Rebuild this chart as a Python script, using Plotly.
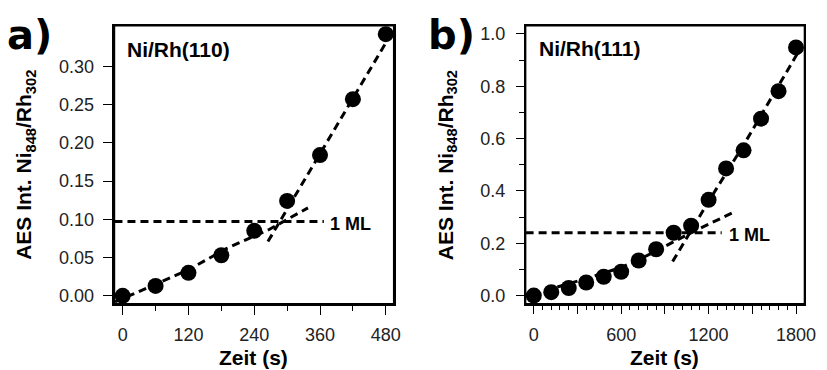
import plotly.graph_objects as go

# ---- data panel a: Ni/Rh(110)
t_a = [0, 60, 120, 180, 240, 300, 360, 420, 480]
y_a = [0.0, 0.013, 0.030, 0.053, 0.085, 0.124, 0.184, 0.257, 0.342]
fit1_a_t = [-14, 60, 120, 190, 268, 338]
fit1_a_y = [-0.008, 0.015, 0.034, 0.062, 0.087, 0.115]
fit2_a_t = [265, 487]
fit2_a_y = [0.071, 0.339]
ml_a_t = [-15, 367]
ml_a_y = [0.097, 0.097]

# ---- data panel b: Ni/Rh(111)
t_b = [0, 120, 240, 360, 480, 600, 720, 840, 960, 1080, 1200, 1320, 1440, 1560, 1680, 1800]
y_b = [0.0, 0.013, 0.029, 0.050, 0.072, 0.091, 0.134, 0.177, 0.240, 0.267, 0.366,
       0.486, 0.555, 0.676, 0.781, 0.948]
fit1_b_t = [0, 95, 377, 603, 750, 960, 1122, 1382]
fit1_b_y = [-0.008, 0.022, 0.068, 0.108, 0.145, 0.205, 0.252, 0.321]
fit2_b_t = [953, 1200, 1440, 1680, 1810]
fit2_b_y = [0.13, 0.36, 0.575, 0.80, 0.925]
ml_b_t = [-56, 1290]
ml_b_y = [0.240, 0.240]

xticks_a = [0, 120, 240, 360, 480]
yticks_a = [0.0, 0.05, 0.10, 0.15, 0.20, 0.25, 0.30]
xticks_b = [0, 300, 600, 900, 1200, 1500, 1800]
xtick_text_b = ["0", "", "600", "", "1200", "", "1800"]
yticks_b = [0.0, 0.2, 0.4, 0.6, 0.8, 1.0]

FONT = "Liberation Sans, Arial, sans-serif"
dash = "8px,5px"

fig = go.Figure()

def add_panel(xa, ya, t, y, fits, ml):
    for (ft, fy) in fits + [ml]:
        fig.add_trace(go.Scatter(x=ft, y=fy, mode="lines", xaxis=xa, yaxis=ya,
                                 line=dict(color="black", width=3, dash=dash),
                                 showlegend=False, hoverinfo="skip"))
    fig.add_trace(go.Scatter(x=t, y=y, mode="markers", xaxis=xa, yaxis=ya,
                             marker=dict(color="black", size=16),
                             showlegend=False))

add_panel("x", "y", t_a, y_a, [(fit1_a_t, fit1_a_y), (fit2_a_t, fit2_a_y)], (ml_a_t, ml_a_y))
add_panel("x2", "y2", t_b, y_b, [(fit1_b_t, fit1_b_y), (fit2_b_t, fit2_b_y)], (ml_b_t, ml_b_y))

tickfont = dict(family=FONT, size=18, color="#222")
common = dict(showline=True, linecolor="black", linewidth=1.5, mirror=True,
              ticks="outside", tickcolor="black", tickwidth=1.2, showgrid=False,
              zeroline=False, tickfont=tickfont)

fig.update_layout(
    width=827, height=370, margin=dict(l=0, r=0, t=0, b=0), autosize=False,
    paper_bgcolor="white", plot_bgcolor="white",
    xaxis=dict(domain=[116/827, 399/827], range=[-15, 494.4], tickvals=xticks_a,
               ticklen=10, ticklabelstandoff=4,
               minor=dict(tickvals=[60, 180, 300, 420], ticklen=6, ticks="outside",
                          tickcolor="black", tickwidth=1.2),
               anchor="y", **common),
    yaxis=dict(domain=[1-305/370, 1-24/370], range=[-0.0103, 0.353], tickvals=yticks_a,
               tickformat=".2f", ticklen=10, ticklabelstandoff=5, anchor="x", **common),
    xaxis2=dict(domain=[532.7/827, 815.3/827], range=[-56, 1858], tickvals=xticks_b,
                ticktext=xtick_text_b, ticklen=9, ticklabelstandoff=5,
                minor=dict(dtick=60, tick0=0, ticklen=5, ticks="outside", tickcolor="black",
                           tickwidth=1.2),
                anchor="y2", **common),
    yaxis2=dict(domain=[1-305/370, 1-24/370], range=[-0.031, 1.031], tickvals=yticks_b,
                tickformat=".1f", ticklen=8, ticklabelstandoff=7,
                minor=dict(dtick=0.1, tick0=0, ticklen=5, ticks="outside", tickcolor="black",
                           tickwidth=1.2),
                anchor="x2", **common),
)

# frame boxes
shapes = []
for xr, yr in (("x domain", "y domain"), ("x2 domain", "y2 domain")):
    shapes.append(dict(type="rect", xref=xr, yref=yr, x0=0, x1=1, y0=0, y1=1,
                       line=dict(color="black", width=1.5), fillcolor="rgba(0,0,0,0)",
                       layer="above"))
fig.update_layout(shapes=shapes)

def px_x(p):
    return p / 827

def px_y(p):
    return 1 - p / 370

bold = dict(family=FONT, color="black")
ann = []
# panel letters
ann.append(dict(x=px_x(5), y=px_y(33), text="<b>a)</b>", xanchor="left", yanchor="middle",
                font=dict(family="DejaVu Sans, sans-serif", size=40, color="black")))
ann.append(dict(x=px_x(432), y=px_y(33), text="<b>b)</b>", xanchor="left", yanchor="middle",
                font=dict(family="DejaVu Sans, sans-serif", size=40, color="black")))
# sample labels
ann.append(dict(x=px_x(127), y=px_y(48), text="<b>Ni/Rh(110)</b>", xanchor="left",
                yanchor="middle", font=dict(size=21, **bold)))
ann.append(dict(x=px_x(544), y=px_y(47), text="<b>Ni/Rh(111)</b>", xanchor="left",
                yanchor="middle", font=dict(size=21, **bold)))
# y-axis titles
ytitle = "<b>AES Int. Ni<sub>848</sub>/Rh<sub>302</sub></b>"
ann.append(dict(x=px_x(26), y=px_y(165), text=ytitle, textangle=-90, xanchor="center",
                yanchor="middle", font=dict(size=21, **bold)))
ann.append(dict(x=px_x(453), y=px_y(165), text=ytitle, textangle=-90, xanchor="center",
                yanchor="middle", font=dict(size=21, **bold)))
# x-axis titles
ann.append(dict(x=px_x(257), y=px_y(359), text="<b>Zeit (s)</b>", xanchor="center",
                yanchor="middle", font=dict(size=21, **bold)))
ann.append(dict(x=px_x(673), y=px_y(359), text="<b>Zeit (s)</b>", xanchor="center",
                yanchor="middle", font=dict(size=21, **bold)))
for a in ann:
    a.update(xref="paper", yref="paper", showarrow=False)

# 1 ML labels (data coordinates)
ann.append(dict(x=375, y=0.0944, xref="x", yref="y", text="<b>1 ML</b>", xanchor="left",
                yanchor="middle", showarrow=False, font=dict(size=18, **bold)))
ann.append(dict(x=1326, y=0.233, xref="x2", yref="y2", text="<b>1 ML</b>", xanchor="left",
                yanchor="middle", showarrow=False, font=dict(size=18, **bold)))

fig.update_layout(annotations=ann)
fig.write_html("out.html")
